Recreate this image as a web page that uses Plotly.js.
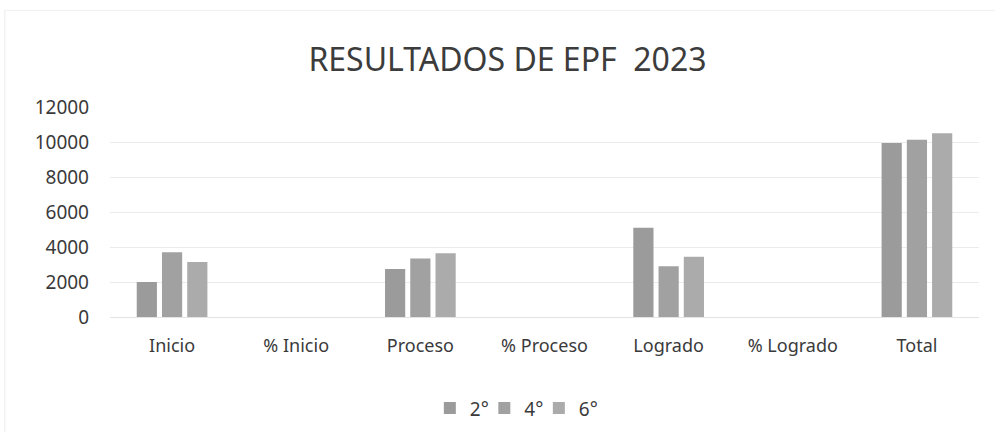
<!DOCTYPE html>
<html>
<head>
<meta charset="utf-8">
<script src="https://cdn.plot.ly/plotly-3.0.1.min.js"></script>
<style>html,body{margin:0;padding:0;background:#fff;}#chart{width:995px;height:432px;}</style>
</head>
<body>
<div id="chart"></div>
<script>
// Data
const categories = ["Inicio", "% Inicio", "Proceso", "% Proceso", "Logrado", "% Logrado", "Total"];
const seriesNames = ["2°", "4°", "6°"];
const values2 = [2000, 0.20, 2750, 0.28, 5100, 0.51, 9950];
const values4 = [3700, 0.37, 3350, 0.33, 2900, 0.29, 10130];
const values6 = [3150, 0.30, 3650, 0.35, 3450, 0.33, 10500];
const yTicks = [0, 2000, 4000, 6000, 8000, 10000, 12000];
const colors = ["#9b9b9b", "#a1a1a1", "#ababab"];

const seriesValues = [values2, values4, values6];
const traces = seriesNames.map((name, i) => ({
  type: "bar",
  name: name,
  x: categories,
  y: seriesValues[i],
  marker: { color: colors[i] },
  hoverinfo: "x+y+name"
}));
// invisible spacer entry so the last legend label is not clipped
traces.push({
  type: "bar",
  name: " ",
  x: categories,
  y: categories.map(() => 0),
  visible: "legendonly",
  marker: { color: "rgba(0,0,0,0)" },
  hoverinfo: "skip"
});

const font = "'Noto Sans', 'Open Sans', sans-serif";
const layout = {
  width: 995,
  height: 432,
  paper_bgcolor: "#ffffff",
  plot_bgcolor: "#ffffff",
  margin: { l: 110, r: 16, t: 107, b: 114.5, pad: 0 },
  barmode: "group",
  bargap: 0.39,
  bargroupgap: 0.2,
  title: {
    text: "RESULTADOS DE EPF  2023",
    font: { family: font, size: 32, color: "#3c3c3c" },
    x: 0.51,
    xanchor: "center",
    xref: "container",
    yref: "container",
    y: 0.862,
    yanchor: "middle"
  },
  xaxis: {
    type: "category",
    showgrid: false,
    showline: false,
    zeroline: false,
    ticks: "",
    ticklabelstandoff: 16,
    tickfont: { family: font, size: 18, color: "#3a3a3a" }
  },
  yaxis: {
    range: [0, 12000],
    tickvals: yTicks,
    ticktext: yTicks.map(String),
    showgrid: true,
    gridcolor: "#ebebeb",
    gridwidth: 1,
    zeroline: true,
    zerolinecolor: "#e3e3e3",
    zerolinewidth: 1,
    showline: false,
    ticks: "",
    ticklabelstandoff: 20,
    tickfont: { family: font, size: 19, color: "#3a3a3a" }
  },
  showlegend: true,
  legend: {
    orientation: "h",
    x: 0.432,
    xref: "container",
    xanchor: "left",
    y: 0.055,
    yref: "container",
    yanchor: "middle",
    font: { family: font, size: 19, color: "#3a3a3a" },
    itemwidth: 30,
    itemclick: false,
    entrywidth: 9.5,
    entrywidthmode: "pixels",
    bgcolor: "rgba(0,0,0,0)"
  },
  shapes: [
    { type: "line", xref: "paper", yref: "paper", x0: -0.121, x1: -0.121, y0: 1.46, y1: -0.55,
      line: { color: "#ececec", width: 1 } },
    { type: "line", xref: "paper", yref: "paper", x0: -0.121, x1: 1.02, y0: 1.46, y1: 1.46,
      line: { color: "#f0f0f0", width: 1 } }
  ]
};

Plotly.newPlot("chart", traces, layout, { displayModeBar: false, staticPlot: true });
</script>
</body>
</html>
